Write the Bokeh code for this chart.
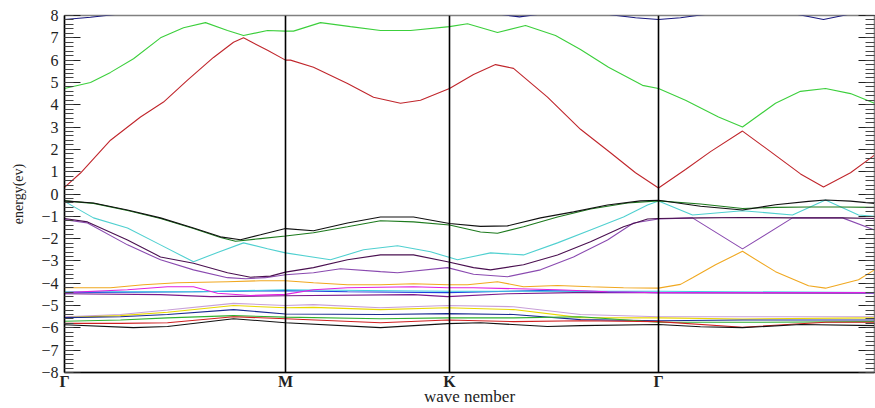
from bokeh.plotting import figure
from bokeh.models import (Span, LinearAxis, FixedTicker, SingleIntervalTicker,
                          CustomJSTickFormatter, Range1d)
from bokeh.embed import file_html
from bokeh.resources import INLINE

# high-symmetry points along the path
HS_K = [0.0, 2.21, 3.85, 5.94, 8.10]
HS_LABELS = ["Γ", "M", "K", "Γ", ""]

# ---------------- conduction bands ----------------
NAVY_CB_K = [0, 0.26, 0.46, 0.76, 4.16, 4.41, 4.55, 4.69, 4.96, 5.26, 5.48, 5.71, 5.94, 6.16, 6.36, 6.66, 7.16, 7.36, 7.59, 7.81, 7.96, 8.10]
NAVY_CB_E = [7.82, 7.92, 8.02, 8.20, 8.20, 8.02, 7.94, 8.02, 8.20, 8.20, 8.02, 7.90, 7.82, 7.90, 8.02, 8.20, 8.20, 8.02, 7.82, 8.02, 8.20, 8.30]

GREEN_CB_K = [0, 0.26, 0.46, 0.69, 0.96, 1.19, 1.41, 1.63, 1.79, 2.03, 2.21, 2.29, 2.56, 2.86, 3.16, 3.46, 3.85, 4.03, 4.33, 4.61, 4.91, 5.16, 5.44, 5.78, 5.94, 6.21, 6.54, 6.78, 7.11, 7.36, 7.61, 7.86, 8.10]
GREEN_CB_E = [4.73, 5.00, 5.45, 6.06, 7.00, 7.45, 7.68, 7.33, 7.10, 7.33, 7.30, 7.30, 7.68, 7.50, 7.33, 7.33, 7.50, 7.63, 7.24, 7.55, 7.10, 6.48, 5.68, 4.87, 4.73, 4.20, 3.45, 3.00, 4.07, 4.60, 4.73, 4.50, 4.07]

RED_CB_K = [0, 0.16, 0.46, 0.76, 0.99, 1.23, 1.49, 1.69, 1.79, 2.03, 2.21, 2.26, 2.49, 2.83, 3.09, 3.36, 3.56, 3.85, 4.09, 4.31, 4.49, 4.83, 5.16, 5.46, 5.71, 5.94, 6.21, 6.46, 6.78, 7.06, 7.36, 7.59, 7.86, 8.10]
RED_CB_E = [0.30, 0.94, 2.41, 3.45, 4.12, 5.10, 6.12, 6.80, 7.00, 6.44, 6.00, 6.00, 5.68, 4.95, 4.34, 4.07, 4.20, 4.73, 5.36, 5.80, 5.63, 4.34, 2.90, 1.85, 0.95, 0.27, 1.10, 1.90, 2.82, 1.90, 0.90, 0.31, 0.95, 1.74]

# ---------------- upper valence bands ----------------
BLACK_VB_K = [0, 0.29, 0.63, 0.96, 1.29, 1.56, 1.76, 1.96, 2.21, 2.49, 2.83, 3.16, 3.49, 3.85, 4.16, 4.43, 4.76, 5.09, 5.43, 5.76, 5.94, 6.36, 6.78, 7.11, 7.44, 7.61, 7.86, 8.10]
BLACK_VB_E = [-0.31, -0.40, -0.72, -1.07, -1.52, -1.92, -2.05, -1.83, -1.55, -1.65, -1.30, -1.03, -1.03, -1.32, -1.45, -1.43, -1.07, -0.80, -0.49, -0.31, -0.28, -0.55, -0.72, -0.48, -0.33, -0.27, -0.32, -0.42]

DKGREEN_VB_K = [0, 0.29, 0.63, 0.96, 1.29, 1.56, 1.71, 1.96, 2.21, 2.49, 2.83, 3.16, 3.49, 3.85, 4.16, 4.33, 4.59, 4.93, 5.26, 5.63, 5.94, 6.36, 6.78, 7.11, 7.44, 7.76, 8.10]
DKGREEN_VB_E = [-0.31, -0.42, -0.74, -1.10, -1.55, -1.95, -2.12, -2.00, -1.88, -1.74, -1.47, -1.20, -1.25, -1.39, -1.70, -1.76, -1.47, -1.03, -0.67, -0.40, -0.31, -0.45, -0.65, -0.60, -0.58, -0.58, -0.60]

CYAN_VB_K = [0, 0.29, 0.63, 0.96, 1.29, 1.53, 1.79, 2.03, 2.21, 2.66, 2.99, 3.33, 3.66, 3.93, 4.26, 4.59, 4.93, 5.26, 5.59, 5.83, 5.94, 6.28, 6.78, 7.28, 7.61, 7.94, 8.10]
CYAN_VB_E = [-0.33, -1.07, -1.52, -2.28, -3.04, -2.62, -2.19, -2.45, -2.64, -2.95, -2.50, -2.32, -2.59, -2.95, -2.64, -2.73, -2.19, -1.61, -1.03, -0.49, -0.31, -0.94, -0.75, -0.94, -0.27, -0.94, -1.00]

DPURPLE_VB_K = [0, 0.23, 0.63, 0.96, 1.29, 1.63, 1.86, 2.06, 2.21, 2.49, 2.83, 3.16, 3.49, 3.83, 4.09, 4.26, 4.59, 4.93, 5.26, 5.59, 5.83, 5.94, 6.36, 6.78, 7.28, 7.78, 8.10]
DPURPLE_VB_E = [-1.10, -1.25, -2.06, -2.82, -3.10, -3.53, -3.73, -3.68, -3.50, -3.30, -2.95, -2.73, -2.73, -3.04, -3.30, -3.40, -3.17, -2.73, -2.14, -1.47, -1.12, -1.10, -1.07, -1.05, -1.07, -1.07, -1.10]

VIOLET_VB_K = [0, 0.23, 0.63, 0.96, 1.29, 1.63, 1.81, 2.01, 2.21, 2.49, 2.76, 3.16, 3.33, 3.83, 4.09, 4.43, 4.76, 5.09, 5.43, 5.69, 5.94, 6.28, 6.78, 7.28, 7.78, 8.10]
VIOLET_VB_E = [-1.15, -1.30, -2.28, -2.95, -3.40, -3.75, -3.80, -3.75, -3.62, -3.53, -3.35, -3.48, -3.53, -3.30, -3.60, -3.71, -3.40, -2.82, -2.06, -1.30, -1.12, -1.07, -2.46, -1.07, -1.07, -1.61]

# ---------------- middle valence group ----------------
ORANGE_VB_K = [0, 0.46, 0.79, 1.13, 1.63, 1.96, 2.21, 2.49, 2.83, 3.16, 3.49, 3.83, 4.03, 4.33, 4.59, 4.93, 5.26, 5.59, 5.94, 6.16, 6.28, 6.51, 6.78, 7.11, 7.44, 7.61, 7.94, 8.10]
ORANGE_VB_E = [-4.20, -4.20, -4.07, -3.98, -3.93, -3.89, -3.89, -3.98, -4.07, -4.07, -4.02, -4.07, -4.07, -3.93, -4.16, -4.10, -4.16, -4.20, -4.22, -4.05, -3.75, -3.17, -2.57, -3.48, -4.11, -4.22, -3.84, -3.40]

MAGENTA_VB_K = [0, 0.63, 1.03, 1.29, 1.53, 1.86, 2.21, 2.49, 2.83, 3.49, 3.83, 4.09, 4.93, 5.43, 5.94, 6.78, 8.10]
MAGENTA_VB_E = [-4.42, -4.29, -4.16, -4.16, -4.45, -4.55, -4.50, -4.29, -4.20, -4.16, -4.20, -4.20, -4.29, -4.38, -4.42, -4.42, -4.42]

LTCYAN_VB_K = [0, 1.36, 2.21, 3.83, 5.94, 8.10]
LTCYAN_VB_E = [-4.38, -4.38, -4.29, -4.36, -4.36, -4.42]

BLUE_VB_K = [0, 1.29, 2.21, 2.83, 3.83, 4.76, 5.94, 8.10]
BLUE_VB_E = [-4.42, -4.38, -4.33, -4.38, -4.42, -4.33, -4.42, -4.42]

PURPLE_VB_K = [0, 0.96, 1.46, 2.21, 3.49, 3.83, 4.43, 5.09, 5.94, 8.10]
PURPLE_VB_E = [-4.47, -4.51, -4.60, -4.56, -4.51, -4.60, -4.47, -4.42, -4.42, -4.45]

# ---------------- lower valence group ----------------
LAVENDER_VB_K = [0, 0.56, 1.03, 1.69, 2.21, 2.49, 3.16, 3.83, 4.49, 5.16, 5.94, 6.78, 8.10]
LAVENDER_VB_E = [-5.50, -5.40, -5.20, -4.90, -5.00, -4.96, -5.10, -5.00, -5.05, -5.40, -5.50, -5.50, -5.50]

YELLOW_VB_K = [0, 0.56, 1.03, 1.69, 2.21, 2.49, 3.16, 3.83, 4.49, 5.16, 5.94, 6.78, 8.10]
YELLOW_VB_E = [-5.54, -5.45, -5.30, -5.00, -5.10, -5.08, -5.18, -5.10, -5.18, -5.54, -5.55, -5.60, -5.55]

NAVY_VB_K = [0, 0.56, 1.03, 1.69, 2.21, 3.16, 3.83, 4.49, 5.16, 5.94, 6.78, 8.10]
NAVY_VB_E = [-5.54, -5.50, -5.40, -5.18, -5.38, -5.40, -5.36, -5.40, -5.63, -5.68, -5.65, -5.65]

GREEN_VB_K = [0, 0.56, 1.03, 1.69, 2.21, 3.16, 3.83, 4.49, 5.16, 5.94, 6.78, 8.10]
GREEN_VB_E = [-5.70, -5.65, -5.55, -5.45, -5.52, -5.59, -5.55, -5.55, -5.50, -5.75, -5.75, -5.72]

RED_VB_K = [0, 0.56, 1.03, 1.69, 2.21, 3.16, 3.83, 4.49, 5.16, 5.94, 6.78, 7.61, 8.10]
RED_VB_E = [-5.80, -5.80, -5.77, -5.50, -5.59, -5.77, -5.65, -5.72, -5.68, -5.72, -5.97, -5.75, -5.75]

BLACK2_VB_K = [0, 0.69, 1.03, 1.69, 2.21, 3.16, 3.83, 4.16, 4.83, 5.16, 5.94, 6.36, 6.78, 7.36, 8.10]
BLACK2_VB_E = [-5.86, -5.99, -5.94, -5.59, -5.77, -5.99, -5.81, -5.77, -5.94, -5.90, -5.85, -5.95, -5.99, -5.85, -5.90]

BANDS = [
    (NAVY_CB_K, NAVY_CB_E, "#1a1a80"),
    (GREEN_CB_K, GREEN_CB_E, "#3ccf3c"),
    (RED_CB_K, RED_CB_E, "#c0262c"),
    (LAVENDER_VB_K, LAVENDER_VB_E, "#c8a0d8"),
    (YELLOW_VB_K, YELLOW_VB_E, "#e8d800"),
    (NAVY_VB_K, NAVY_VB_E, "#1a2a90"),
    (GREEN_VB_K, GREEN_VB_E, "#30b030"),
    (RED_VB_K, RED_VB_E, "#d02020"),
    (BLACK2_VB_K, BLACK2_VB_E, "#111111"),
    (PURPLE_VB_K, PURPLE_VB_E, "#7a1a8a"),
    (BLUE_VB_K, BLUE_VB_E, "#2040e0"),
    (LTCYAN_VB_K, LTCYAN_VB_E, "#40d0e0"),
    (MAGENTA_VB_K, MAGENTA_VB_E, "#e020e0"),
    (ORANGE_VB_K, ORANGE_VB_E, "#f0a820"),
    (VIOLET_VB_K, VIOLET_VB_E, "#8a4ab0"),
    (DPURPLE_VB_K, DPURPLE_VB_E, "#4a1050"),
    (CYAN_VB_K, CYAN_VB_E, "#50d0d0"),
    (DKGREEN_VB_K, DKGREEN_VB_E, "#1d7a1d"),
    (BLACK_VB_K, BLACK_VB_E, "#111111"),
]

SERIF = "Liberation Serif"

p = figure(width=875, height=408, x_range=Range1d(0, HS_K[-1]), y_range=Range1d(-8, 8),
           output_backend="svg", toolbar_location=None,
           min_border_left=64, min_border_right=1, min_border_top=15, min_border_bottom=35)
p.xgrid.visible = False
p.ygrid.visible = False
p.outline_line_color = "#808080"
p.outline_line_width = 1.5
p.background_fill_color = "white"
p.border_fill_color = "white"

for k, e, c in BANDS:
    p.line(k, e, line_color=c, line_width=1.1)

for loc in HS_K[1:4]:
    p.add_layout(Span(location=loc, dimension="height", line_color="black", line_width=1.6))

# x axis
xa = p.xaxis[0]
xa.ticker = FixedTicker(ticks=HS_K)
xa.formatter = CustomJSTickFormatter(args=dict(pos=HS_K, names=HS_LABELS), code="""
for (let i = 0; i < pos.length; i++) { if (Math.abs(tick - pos[i]) < 1e-6) return names[i]; }
return '';
""")
xa.major_tick_in = 0
xa.major_tick_out = 0
xa.minor_tick_line_color = None
xa.axis_line_color = "black"
xa.axis_line_width = 1.5
xa.major_label_text_font = SERIF
xa.major_label_text_font_style = "bold"
xa.major_label_text_font_size = "16px"
xa.major_label_text_color = "#222222"
xa.major_label_standoff = 0
xa.axis_label = "wave nember"
xa.axis_label_text_font = SERIF
xa.axis_label_text_font_style = "normal"
xa.axis_label_text_font_size = "17px"
xa.axis_label_text_color = "#222222"
xa.axis_label_standoff = -6

# y axis
ya = p.yaxis[0]
ya.ticker = SingleIntervalTicker(interval=1, num_minor_ticks=5)
ya.major_tick_in = 16
ya.major_tick_out = 0
ya.minor_tick_in = 9
ya.minor_tick_out = 0
ya.major_tick_line_color = "#222222"
ya.minor_tick_line_color = "#444444"
ya.axis_line_color = "black"
ya.axis_line_width = 1.5
ya.major_label_text_font = SERIF
ya.major_label_text_font_size = "16px"
ya.major_label_text_color = "#222222"
ya.major_label_standoff = 6
ya.axis_label = "energy(ev)"
ya.axis_label_text_font = SERIF
ya.axis_label_text_font_style = "normal"
ya.axis_label_text_font_size = "14px"
ya.axis_label_text_color = "#222222"
ya.axis_label_standoff = 12

# right axis: inward ticks only
ra = LinearAxis(ticker=SingleIntervalTicker(interval=1, num_minor_ticks=5),
                formatter=CustomJSTickFormatter(code="return '';"))
ra.major_tick_in = 16
ra.major_tick_out = 0
ra.minor_tick_in = 9
ra.minor_tick_out = 0
ra.major_label_standoff = 0
ra.major_tick_line_color = "#222222"
ra.minor_tick_line_color = "#444444"
ra.axis_line_color = "#808080"
p.add_layout(ra, "right")

open("out.html", "w").write(file_html(p, INLINE))
